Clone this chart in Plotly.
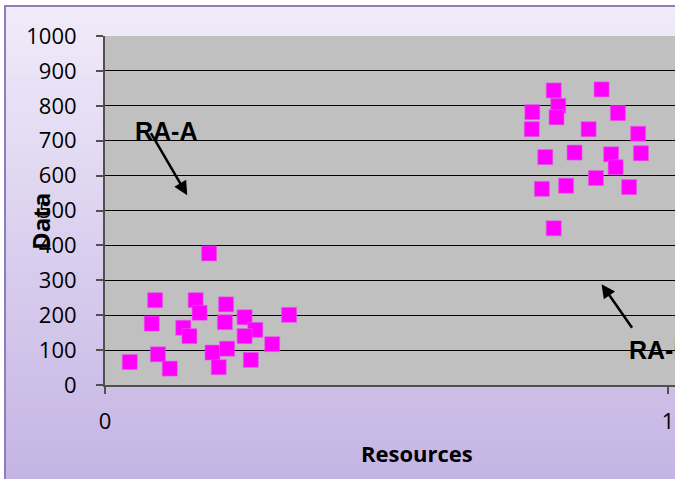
import plotly.graph_objects as go

# ---- data ----
cluster_a_x = [0.185, 0.089, 0.161, 0.215, 0.168, 0.083, 0.139, 0.213, 0.248, 0.327, 0.150,
               0.267, 0.248, 0.297, 0.094, 0.191, 0.217, 0.044, 0.115, 0.202, 0.259]
cluster_a_y = [377, 243, 243, 231, 207, 176, 164, 180, 194, 201, 140,
               158, 140, 117, 88, 93, 104, 66, 47, 51, 72]
cluster_b_x = [0.797, 0.882, 0.805, 0.759, 0.802, 0.911, 0.758, 0.859, 0.947, 0.782,
               0.834, 0.899, 0.952, 0.907, 0.872, 0.776, 0.819, 0.931, 0.797]
cluster_b_y = [844, 847, 800, 782, 767, 779, 733, 733, 720, 653,
               666, 661, 664, 624, 593, 562, 571, 567, 449]
y_ticks = [0, 100, 200, 300, 400, 500, 600, 700, 800, 900, 1000]
x_ticks = [0, 1]

W, H = 675, 479
L, T, B = 105, 36, 94
plot_w = W - L
plot_h = H - T - B
x_per_px = 1 / 563.0


def px_x(p):
    return (p - L) / plot_w


def px_y(p):
    return (T + plot_h - p) / plot_h


fig = go.Figure()
fig.add_trace(go.Scatter(
    x=cluster_a_x + cluster_b_x, y=cluster_a_y + cluster_b_y,
    mode="markers",
    marker=dict(symbol="square", size=15, color="#FF00FF",
                line=dict(width=0.6, color="#E060E0")),
    showlegend=False, cliponaxis=False))

shapes = []
# gradient background (strips)
top_c = (240, 235, 249)
bot_c = (197, 180, 228)
y_start, y_end = 6, 479
n = 48
for i in range(n):
    p0 = y_start + (y_end - y_start) * i / n
    p1 = y_start + (y_end - y_start) * (i + 1) / n + 1
    t = (i + 0.5) / n
    c = tuple(round(top_c[k] + (bot_c[k] - top_c[k]) * t) for k in range(3))
    shapes.append(dict(type="rect", xref="paper", yref="paper", layer="below",
                       x0=px_x(5), x1=1.2, y0=px_y(p1), y1=px_y(p0),
                       line=dict(width=0), fillcolor="rgb(%d,%d,%d)" % c))
# frame
shapes.append(dict(type="rect", xref="paper", yref="paper", layer="below",
                   x0=px_x(5), x1=1.2, y0=-0.5, y1=px_y(6),
                   line=dict(width=2, color="#8E7DBA"), fillcolor="rgba(0,0,0,0)"))
# plot area fill
shapes.append(dict(type="rect", xref="paper", yref="paper", layer="below",
                   x0=0, x1=1.05, y0=0, y1=1,
                   line=dict(width=0), fillcolor="#C0C0C0"))

ann_font = dict(family="Liberation Sans, Arial", size=25, color="black")
annotations = [
    dict(x=0.146, y=544, ax=0.080, ay=726, xref="x", yref="y", axref="x", ayref="y",
         text="", showarrow=True, arrowhead=2, arrowsize=1.1, arrowwidth=2.5, arrowcolor="black"),
    dict(x=0.882, y=289, ax=0.938, ay=160, xref="x", yref="y", axref="x", ayref="y",
         text="", showarrow=True, arrowhead=2, arrowsize=1.1, arrowwidth=2.5, arrowcolor="black"),
    dict(x=0.0497, y=728, xref="x", yref="y", text="<b>RA-A</b>", showarrow=False,
         xanchor="left", yanchor="middle", font=ann_font),
    dict(x=0.928, y=100, xref="x", yref="y", text="<b>RA-B</b>", showarrow=False,
         xanchor="left", yanchor="middle", font=ann_font),
    dict(x=px_x(40), y=px_y(222), xref="paper", yref="paper", text="<b>Data</b>",
         textangle=-90, showarrow=False, xanchor="center", yanchor="middle",
         font=dict(family="Open Sans", size=24, color="black")),
    dict(x=px_x(417), y=px_y(453), xref="paper", yref="paper", text="<b>Resources</b>",
         showarrow=False, xanchor="center", yanchor="middle",
         font=dict(family="Open Sans", size=22, color="black")),
]

fig.update_layout(
    width=W, height=H,
    margin=dict(l=L, r=0, t=T, b=B, pad=0),
    paper_bgcolor="white",
    plot_bgcolor="#C0C0C0",
    shapes=shapes,
    annotations=annotations,
    font=dict(family="Open Sans", size=22, color="black"),
    xaxis=dict(range=[0, plot_w * x_per_px], tickvals=x_ticks, ticktext=[str(v) for v in x_ticks],
               showgrid=False, zeroline=False, showline=True, linecolor="#505050", linewidth=2,
               ticks="outside", ticklen=7, tickwidth=1.5, tickcolor="#505050",
               ticklabelstandoff=9, ticklabeloverflow="allow", fixedrange=True),
    yaxis=dict(range=[0, 1000], tickvals=y_ticks, ticktext=[str(v) for v in y_ticks],
               showgrid=True, gridcolor="black", gridwidth=1, zeroline=False,
               showline=True, linecolor="#505050", linewidth=2,
               ticks="outside", ticklen=7, tickwidth=1.5, tickcolor="#505050",
               ticklabelstandoff=15, fixedrange=True),
)

fig.write_html("out.html", config={"displayModeBar": False},
               post_script="document.body.style.margin='0';document.body.style.overflow='hidden';")
